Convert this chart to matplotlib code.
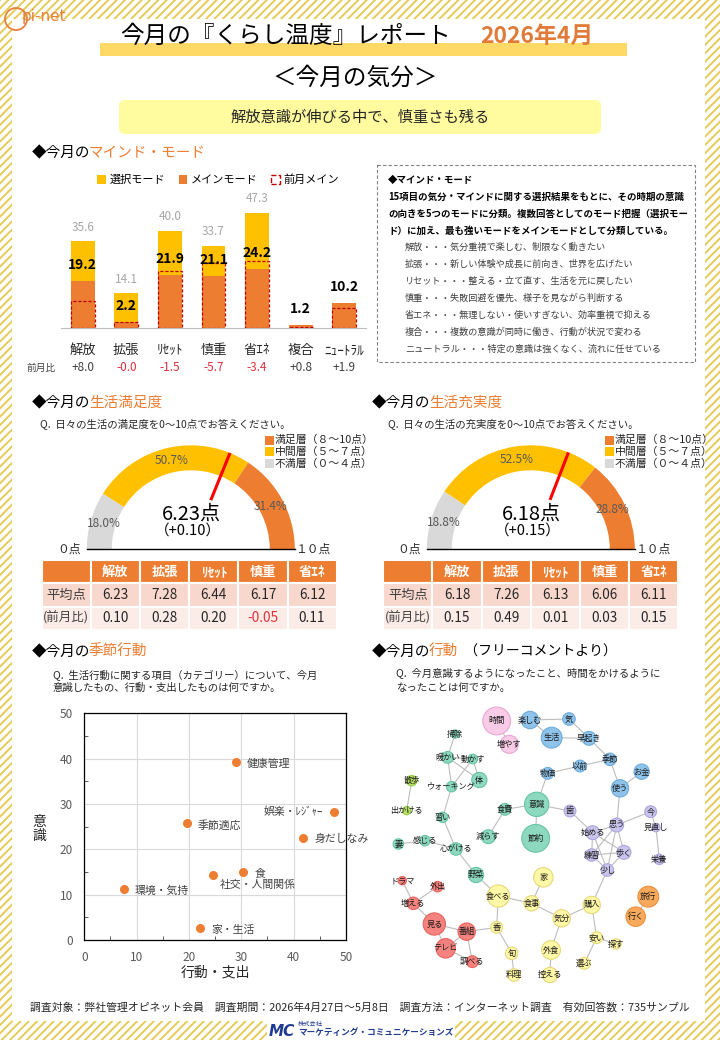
import matplotlib
matplotlib.use('Agg')
import matplotlib.pyplot as plt
import numpy as np
from matplotlib.patches import Rectangle, Wedge, FancyBboxPatch, Circle, Patch

plt.rcParams['font.family'] = ['Noto Sans CJK JP', 'DejaVu Sans']
plt.rcParams['hatch.linewidth'] = 1.4

# --- マインド・モード ---
modes = ['解放', '拡張', 'ﾘｾｯﾄ', '慎重', '省ｴﾈ', '複合', 'ﾆｭｰﾄﾗﾙ']
select_mode = [35.6, 14.1, 40.0, 33.7, 47.3, np.nan, np.nan]
main_mode = [19.2, 2.2, 21.9, 21.1, 24.2, 1.2, 10.2]
main_diff = ['+8.0', '-0.0', '-1.5', '-5.7', '-3.4', '+0.8', '+1.9']

# --- 生活満足度 / 生活充実度 (不満層, 中間層, 満足層) ---
sat_share = [18.0, 50.7, 31.4]
sat_score, sat_diff = 6.23, '+0.10'
ful_share = [18.8, 52.5, 28.8]
ful_score, ful_diff = 6.18, '+0.15'
table_cols = ['解放', '拡張', 'ﾘｾｯﾄ', '慎重', '省ｴﾈ']
sat_avg = [6.23, 7.28, 6.44, 6.17, 6.12]
sat_chg = [0.10, 0.28, 0.20, -0.05, 0.11]
ful_avg = [6.18, 7.26, 6.13, 6.06, 6.11]
ful_chg = [0.15, 0.49, 0.01, 0.03, 0.15]

# --- 季節行動 ---
season_items = ['健康管理', '娯楽・ﾚｼﾞｬｰ', '季節適応', '身だしなみ', '食', '社交・人間関係', '環境・気持', '家・生活']
season_action = [28.9, 47.8, 19.6, 41.8, 30.3, 24.5, 7.5, 22.2]
season_aware = [39.3, 28.2, 25.7, 22.6, 15.1, 14.3, 11.2, 2.6]

# --- フリーコメント共起ネットワーク ---
node_words = ['時間', '増やす', '楽しむ', '気', '生活', '早起き', '季節', '以前', '物価', 'お金', '使う',
              '掃除', '暖かい', '動かす', '体', 'ウォーキング', '散歩', '出かける', '意識', '節約', '食費',
              '減らす', '習い', '感じる', '心がける', '妻', '野菜', '歯', '今', '思う', '始める', '見直し',
              '練習', '歩く', '少し', '栄養', 'ドラマ', '外出', '増える', '見る', '番組', 'テレビ', '調べる',
              '家', '食べる', '食事', '気分', '購入', '香', '旬', '外食', '料理', '控える', '安い', '探す',
              '選ぶ', '旅行', '行く']
node_x = [380, 418, 480, 597, 545, 657, 720, 630, 533, 815, 750,
          255, 233, 308, 328, 245, 125, 110, 500, 497, 405,
          355, 218, 165, 258, 85, 318, 600, 842, 740, 668, 858,
          665, 762, 712, 868, 97, 203, 130, 193, 290, 227, 307,
          520, 385, 485, 575, 665, 380, 425, 543, 432, 540, 680, 738,
          643, 835, 797]
node_y = [243, 313, 240, 237, 293, 295, 358, 378, 400, 395, 445,
          282, 352, 357, 420, 440, 422, 512, 493, 595, 508,
          590, 532, 602, 627, 612, 705, 513, 515, 555, 578, 563,
          645, 637, 690, 658, 722, 740, 790, 852, 875, 925, 965,
          712, 768, 790, 835, 795, 862, 940, 930, 1005, 1005, 893, 912,
          970, 770, 830]
node_size = [40, 26, 25, 18, 30, 20, 18, 17, 17, 22, 25,
             12, 17, 14, 22, 15, 15, 12, 35, 40, 17,
             20, 15, 15, 18, 15, 22, 17, 17, 20, 20, 12,
             18, 20, 18, 15, 12, 15, 18, 32, 25, 28, 17,
             28, 32, 22, 25, 25, 17, 18, 27, 18, 22, 17, 15,
             17, 30, 28]
node_group = ['pink', 'pink'] + ['blue'] * 9 + ['teal'] * 5 + ['lime'] * 2 + ['teal'] * 9 + \
             ['purple'] * 9 + ['red'] * 7 + ['yellow'] * 13 + ['orange'] * 2
edges = [('時間', '増やす'), ('楽しむ', '気'), ('楽しむ', '生活'), ('気', '早起き'), ('生活', '早起き'),
         ('早起き', '季節'), ('季節', '以前'), ('以前', '物価'), ('季節', '使う'), ('使う', 'お金'),
         ('掃除', '暖かい'), ('暖かい', '動かす'), ('暖かい', '体'), ('暖かい', 'ウォーキング'),
         ('動かす', '体'), ('動かす', 'ウォーキング'), ('ウォーキング', '習い'), ('習い', '心がける'),
         ('感じる', '心がける'), ('妻', '感じる'), ('心がける', '野菜'), ('減らす', '食費'),
         ('食費', '意識'), ('意識', '節約'), ('意識', '物価'), ('意識', '歯'), ('散歩', '出かける'),
         ('歯', '始める'), ('思う', '始める'), ('思う', '練習'), ('思う', '歩く'), ('思う', '少し'),
         ('思う', '今'), ('始める', '練習'), ('始める', '歩く'), ('始める', '少し'), ('練習', '歩く'),
         ('練習', '少し'), ('歩く', '少し'), ('今', '見直し'), ('見直し', '栄養'), ('使う', '思う'),
         ('少し', '購入'), ('ドラマ', '増える'), ('外出', '増える'), ('増える', '見る'), ('見る', '番組'),
         ('見る', 'テレビ'), ('番組', 'テレビ'), ('番組', '調べる'), ('テレビ', '調べる'),
         ('野菜', '食べる'), ('食べる', '食事'), ('食事', '家'), ('食事', '気分'), ('気分', '購入'),
         ('気分', '外食'), ('外食', '控える'), ('食べる', '香'), ('香', '旬'), ('旬', '料理'),
         ('番組', '香'), ('購入', '安い'), ('安い', '探す'), ('安い', '選ぶ'), ('旅行', '行く')]

ORANGE = '#ED7D31'
YELLOW = '#FFC000'
GREY = '#D9D9D9'
RED = '#E0303A'
TXT = '#262626'
W, H = 720, 1040

fig = plt.figure(figsize=(7.2, 10.4), dpi=100)


def px_axes(x0, y0, x1, y1):
    a = fig.add_axes([x0 / W, 1 - y1 / H, (x1 - x0) / W, (y1 - y0) / H])
    a.set_facecolor('none')
    return a


# 背景
bg = px_axes(0, 0, W, H)
bg.set_xlim(0, W)
bg.set_ylim(H, 0)
bg.axis('off')
bg.add_patch(Rectangle((0, 0), W, H, facecolor='white', edgecolor='#E6CB58', hatch='////', lw=0))
bg.add_patch(Rectangle((12, 19), 693, 1002, facecolor='white', lw=0))
bg.add_patch(Rectangle((267, 1021), 188, 19, facecolor='white', lw=0))

# ロゴ
bg.add_patch(Circle((16, 19), 11, facecolor='none', edgecolor='#E8803A', lw=1.3))
bg.text(22, 16, 'pi-net', fontsize=11, color='#E8803A', va='center', family='DejaVu Sans')

# タイトル
bg.add_patch(Rectangle((100, 43), 527, 13, facecolor='#FFD966', lw=0))
bg.text(120, 36, '今月の『くらし温度』レポート', fontsize=17, va='center', color='black')
bg.text(480, 36, '2026年4月', fontsize=16.5, va='center', color='#E07B39', fontweight='bold')
bg.text(355, 78, '＜今月の気分＞', fontsize=17, va='center', ha='center', color='black')
bg.add_patch(FancyBboxPatch((122, 103), 476, 28, boxstyle='round,pad=3,rounding_size=6',
                            facecolor='#FFFB9E', lw=0))
bg.text(360, 117, '解放意識が伸びる中で、慎重さも残る', fontsize=11, va='center', ha='center', color=TXT)


def section(x, y, colored, tail=''):
    t = bg.text(x, y, '◆今月の', fontsize=10.5, va='center', ha='left', color='black')
    t2 = bg.annotate(colored, xy=(0.97, 0), xycoords=t, va='bottom', ha='left', fontsize=10.5, color=ORANGE)
    if tail:
        bg.annotate(tail, xy=(1, 0), xycoords=t2, va='bottom', ha='left', fontsize=10, color='black')


section(32, 153, 'マインド・モード')
section(32, 403, '生活満足度')
section(372, 403, '生活充実度')
section(32, 652, '季節行動')
section(372, 652, '行動', '  （フリーコメントより）')

# --- マインド・モード棒グラフ ---
ax = px_axes(61, 182, 366, 327.7)
x = np.arange(len(modes))
ax.bar(x, np.nan_to_num(select_mode), width=0.55, color=YELLOW, zorder=1)
ax.bar(x, main_mode, width=0.55, color=ORANGE, zorder=2)
prev = [m - float(d) for m, d in zip(main_mode, main_diff)]
ax.bar(x, prev, width=0.55, fill=False, edgecolor='#C00000', linestyle=(0, (2.5, 1.5)), lw=0.9, zorder=3)
for i in range(len(modes)):
    if not np.isnan(select_mode[i]):
        ax.annotate(f'{select_mode[i]:.1f}', (i, select_mode[i]), xytext=(0, 10), textcoords='offset points',
                    ha='center', va='center', fontsize=8.5, color='#A6A6A6')
    ax.annotate(f'{main_mode[i]:.1f}', (i, main_mode[i]), xytext=(0, 11.5), textcoords='offset points',
                ha='center', va='center', fontsize=10, fontweight='bold', color='black', zorder=4)
    ax.text(i, -16.5, main_diff[i], ha='center', va='center', fontsize=8.5, clip_on=False,
            color=RED if main_diff[i].startswith('-') else '#404040')
ax.text(-0.95, -16.5, '前月比', ha='center', va='center', fontsize=7, color='#404040', clip_on=False)
ax.set_xlim(-0.5, 6.5)
ax.set_ylim(0, 60)
ax.set_xticks(x, modes)
ax.tick_params(axis='x', length=0, pad=12, labelsize=9.5, colors='#262626')
ax.set_yticks([])
for s in ['top', 'left', 'right']:
    ax.spines[s].set_visible(False)
ax.spines['bottom'].set_color('#BFBFBF')
ax.legend(handles=[Patch(facecolor=YELLOW, label='選択モード'),
                   Patch(facecolor=ORANGE, label='メインモード'),
                   Patch(facecolor='white', edgecolor='#C00000', linestyle='--', label='前月メイン')],
          loc='center', bbox_to_anchor=(218 / W, 1 - 180 / H), bbox_transform=fig.transFigure, ncol=3,
          frameon=False, fontsize=8, handlelength=0.8, handleheight=0.8, handletextpad=0.3,
          columnspacing=1.2)

# --- 説明ボックス ---
bg.add_patch(Rectangle((377, 165), 318, 197, facecolor='white', edgecolor='#808080',
                       linestyle=(0, (3, 2)), lw=0.8))
box_bold = ['◆マインド・モード',
            '15項目の気分・マインドに関する選択結果をもとに、その時期の意識',
            'の向きを5つのモードに分類。複数回答としてのモード把握（選択モー',
            'ド）に加え、最も強いモードをメインモードとして分類している。']
box_list = ['解放・・・気分重視で楽しむ、制限なく動きたい',
            '拡張・・・新しい体験や成長に前向き、世界を広げたい',
            'リセット・・・整える・立て直す、生活を元に戻したい',
            '慎重・・・失敗回避を優先、様子を見ながら判断する',
            '省エネ・・・無理しない・使いすぎない、効率重視で抑える',
            '複合・・・複数の意識が同時に働き、行動が状況で変わる',
            'ニュートラル・・・特定の意識は強くなく、流れに任せている']
for k, line in enumerate(box_bold):
    bg.text(388, 180 + 16.9 * k, line, fontsize=6.8, fontweight='bold', va='center', color='black')
for k, line in enumerate(box_list):
    bg.text(405, 180 + 16.9 * (k + 4), line, fontsize=6.6, va='center', color='#404040')

# --- ゲージ ---
legend_labels = ['満足層（８～10点）', '中間層（５～７点）', '不満層（０～４点）']


def gauge(cx, shares, score, diff):
    g = px_axes(cx - 150, 430, cx + 170, 560)
    g.set_xlim(-150, 170)
    g.set_ylim(549.3 - 560, 549.3 - 430)
    g.axis('off')
    total = sum(shares)
    start = 180.0
    for share, col in zip(shares, [GREY, YELLOW, ORANGE]):
        span = share / total * 180
        g.add_patch(Wedge((0, 0), 104, start - span, start, width=25, facecolor=col, edgecolor='none'))
        mid = np.radians(start - span / 2)
        g.text(91 * np.cos(mid), 91 * np.sin(mid), f'{share:.1f}%', ha='center', va='center',
               fontsize=8.5, color='#595959')
        start -= span
    ang = np.radians(180 - score * 18)
    g.plot([53 * np.cos(ang), 104 * np.cos(ang)], [53 * np.sin(ang), 104 * np.sin(ang)],
           color='#FF0000', lw=2.2, solid_capstyle='butt')
    g.plot([-104, 104], [0, 0], color='black', lw=1)
    g.text(1, 35, f'{score:.2f}点', ha='center', va='center', fontsize=14.5, color='black')
    g.text(-3, 19, f'（{diff}）', ha='center', va='center', fontsize=10.5, color='black')
    g.text(-122, 0, '０点', ha='center', va='center', fontsize=8.5, color='#262626')
    g.text(122, 0, '１０点', ha='center', va='center', fontsize=8.5, color='#262626')
    for k, (lab, col) in enumerate(zip(legend_labels, [ORANGE, YELLOW, GREY])):
        yy = 109.3 - 11.7 * k
        g.add_patch(Rectangle((74, yy - 4.5), 9, 9, facecolor=col, lw=0))
        g.text(84, yy, lab, ha='left', va='center', fontsize=7.8, color='#262626')


def score_table(x0, x1, avg, chg):
    t = px_axes(x0, 560, x1, 630)
    t.set_xlim(0, 6)
    t.set_ylim(3, 0)
    t.axis('off')
    header = [''] + table_cols
    for j in range(6):
        t.add_patch(Rectangle((j, 0), 1, 1, facecolor=ORANGE, edgecolor='white', lw=1.5))
        t.add_patch(Rectangle((j, 1), 1, 1, facecolor='#F8D8CD', edgecolor='white', lw=1.5))
        t.add_patch(Rectangle((j, 2), 1, 1, facecolor='#FCECE7', edgecolor='white', lw=1.5))
        t.text(j + 0.5, 0.5, header[j], ha='center', va='center', fontsize=9.5, fontweight='bold', color='white')
    t.text(0.5, 1.5, '平均点', ha='center', va='center', fontsize=9.5, color='#404040')
    t.text(0.5, 2.5, '(前月比)', ha='center', va='center', fontsize=9, color='#404040')
    for j in range(5):
        t.text(j + 1.5, 1.5, f'{avg[j]:.2f}', ha='center', va='center', fontsize=9.8, color=TXT)
        t.text(j + 1.5, 2.5, f'{chg[j]:.2f}', ha='center', va='center', fontsize=9.8,
               color=RED if chg[j] < 0 else TXT)


bg.text(40, 424, 'Q.  日々の生活の満足度を0～10点でお答えください。', fontsize=7.5, va='center', color=TXT)
bg.text(388, 424, 'Q.  日々の生活の充実度を0～10点でお答えください。', fontsize=7.5, va='center', color=TXT)
gauge(190.8, sat_share, sat_score, sat_diff)
gauge(530.8, ful_share, ful_score, ful_diff)
score_table(41.7, 336.7, sat_avg, sat_chg)
score_table(383.3, 678.3, ful_avg, ful_chg)

# --- 季節行動 散布図 ---
bg.text(53, 675, 'Q.  生活行動に関する項目（カテゴリー）について、今月', fontsize=7.5, va='center', color=TXT)
bg.text(53, 688, '意識したもの、行動・支出したものは何ですか。', fontsize=7.5, va='center', color=TXT)
sc = px_axes(84.3, 713.3, 346, 940)
sc.scatter(season_action, season_aware, s=30, color=ORANGE, zorder=3, clip_on=False)
label_off = {'娯楽・ﾚｼﾞｬｰ': (-8.5, 0, 'right', 'center'), '社交・人間関係': (5.5, -3.5, 'left', 'top'),
             '食': (8.5, -0.8, 'left', 'center')}
for name, xa, ya in zip(season_items, season_action, season_aware):
    dx, dy, ha, va = label_off.get(name, (8, -1.2, 'left', 'center'))
    sc.annotate(name, (xa, ya), xytext=(dx, dy), textcoords='offset points', ha=ha, va=va,
                fontsize=7.8, color='#404040')
sc.set_xlim(0, 50)
sc.set_ylim(0, 50)
sc.set_xticks(range(0, 51, 10))
sc.set_yticks(range(0, 51, 10))
sc.set_xticks(range(5, 50, 10), minor=True)
sc.set_yticks(range(5, 50, 10), minor=True)
sc.grid(True, which='major', color='#D9D9D9', lw=0.8)
sc.tick_params(which='major', length=0, labelsize=8.5, colors='#595959', pad=8)
sc.tick_params(which='minor', direction='in', length=3, color='#404040')
for s in sc.spines.values():
    s.set_color('black')
    s.set_linewidth(0.9)
bg.text(215, 972, '行動・支出', fontsize=10, ha='center', va='center', color=TXT)
bg.text(39, 829, '意\n識', fontsize=10, ha='center', va='center', color=TXT, linespacing=1.05)

# --- 共起ネットワーク ---
bg.text(396, 673, 'Q.  今月意識するようになったこと、時間をかけるように', fontsize=7.5, va='center', color=TXT)
bg.text(396, 688, 'なったことは何ですか。', fontsize=7.5, va='center', color=TXT)
face = {'pink': '#F8CBE7', 'blue': '#8FC3EA', 'teal': '#8CD9BF', 'lime': '#B7E068',
        'purple': '#C9C4EC', 'red': '#F4827E', 'yellow': '#FFF8A6', 'orange': '#F7A95C'}
edge = {'pink': '#EBA6D4', 'blue': '#6EACDB', 'teal': '#69C3A6', 'lime': '#9ACD47',
        'purple': '#ADA5DE', 'red': '#E8625E', 'yellow': '#E6D87A', 'orange': '#EE8E3C'}
net = px_axes(370, 640, 710, 990)
net.set_xlim(0, 1020)
net.set_ylim(1050, 0)
net.axis('off')
idx = {w: k for k, w in enumerate(node_words)}
for a, b in edges:
    net.plot([node_x[idx[a]], node_x[idx[b]]], [node_y[idx[a]], node_y[idx[b]]],
             color='#BDBDBD', lw=0.8, zorder=1)
net.scatter(node_x, node_y, s=(0.5 * np.array(node_size)) ** 2,
            c=[face[g] for g in node_group], edgecolors=[edge[g] for g in node_group],
            linewidths=0.8, zorder=2, clip_on=False)
for w, xn, yn in zip(node_words, node_x, node_y):
    net.text(xn, yn, w, ha='center', va='center', fontsize=5.9, color='#1A1A1A', zorder=3)

# --- フッター ---
bg.text(360, 1007, '調査対象：弊社管理オピネット会員　調査期間：2026年4月27日～5月8日　'
        '調査方法：インターネット調査　有効回答数：735サンプル', fontsize=7.8, ha='center', va='center', color=TXT)
bg.text(269, 1031, 'MC', fontsize=11, fontweight='bold', style='italic', color='#1F3A93', va='center',
        family='DejaVu Sans')
bg.text(298, 1024, '株式会社', fontsize=4.5, color='#1F3A93', va='center')
bg.text(298, 1033, 'マーケティング・コミュニケーションズ', fontsize=6.2, fontweight='bold',
        color='#1F3A93', va='center')

fig.savefig('out.png', dpi=100)
